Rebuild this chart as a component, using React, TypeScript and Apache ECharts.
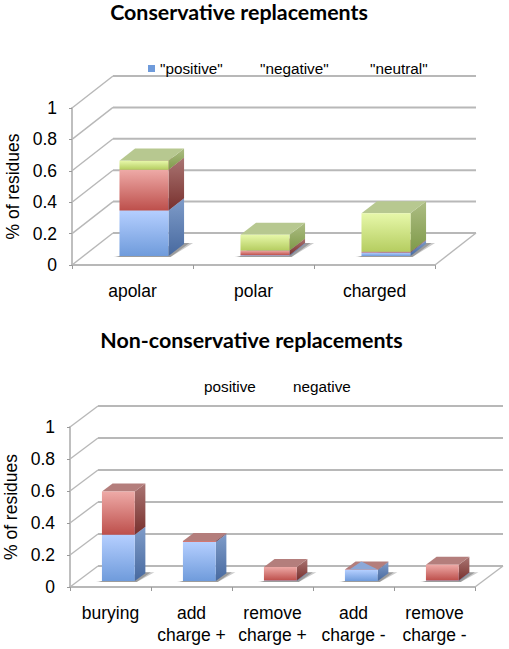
import React, { useEffect, useRef } from "react";
import * as echarts from "echarts";

const yTicks = [0, 0.2, 0.4, 0.6, 0.8, 1];

const topCategories = ["apolar", "polar", "charged"];
const topPositive = [0.29, 0.005, 0.022];
const topNegative = [0.26, 0.03, 0.005];
const topNeutral = [0.057, 0.1, 0.245];

const bottomCategories = ["burying", "add\ncharge +", "remove\ncharge +", "add\ncharge -", "remove\ncharge -"];
const bottomPositive = [0.29, 0.245, 0.004, 0.07, 0.004];
const bottomNegative = [0.27, 0.006, 0.085, 0.002, 0.098];

const BLUE = { front: ["#b5cfff", "#6f9bdb"], side: ["#7f9cc9", "#47699f"], top: "#8ba8d8" };
const RED = { front: ["#eeaaa7", "#bd4f4b"], side: ["#aa7573", "#78302d"], top: "#b47e7c" };
const GREEN = { front: ["#e7f8aa", "#b5cd60"], side: ["#adbd84", "#7f9a49"], top: "#b7c890" };

const vGrad = (c: string[]) => ({
  type: "linear", x: 0, y: 0, x2: 0, y2: 1,
  colorStops: [{ offset: 0, color: c[0] }, { offset: 1, color: c[1] }],
});

const FLOOR_FRAC = 0.28;
const BAR_DEPTH = 0.38;
const BAR_WIDTH = 0.405;
const LINE = "#b8b8b8";

function wallsSeries(gridIndex: number, dx: number, dy: number) {
  return {
    type: "custom", xAxisIndex: gridIndex, yAxisIndex: gridIndex, silent: true, clip: false,
    data: yTicks.map((v) => [0, v]),
    encode: { y: 1 },
    renderItem: (params: any, api: any) => {
      const cs = params.coordSys;
      const v = api.value(1);
      const y = api.coord([0, v])[1];
      const x0 = cs.x, x1 = cs.x + cs.width;
      const children: any[] = [
        { type: "line", shape: { x1: x0, y1: y, x2: x0 + dx, y2: y + dy }, style: { stroke: LINE, lineWidth: 1.4, fill: null } },
        { type: "line", shape: { x1: x0 + dx, y1: y + dy, x2: x1 + dx, y2: y + dy }, style: { stroke: LINE, lineWidth: 2, fill: null } },
      ];
      if (v === 0) {
        children.push({ type: "line", shape: { x1: x1, y1: y, x2: x1 + dx, y2: y + dy }, style: { stroke: LINE, lineWidth: 1.4, fill: null } });
      }
      return { type: "group", children };
    },
  };
}

function shadowSeries(gridIndex: number, cats: string[], dx: number, dy: number) {
  return {
    type: "custom", xAxisIndex: gridIndex, yAxisIndex: gridIndex, silent: true, clip: false,
    data: cats.map((_, i) => [i, 0]),
    encode: { x: 0, y: 1 },
    renderItem: (params: any, api: any) => {
      const p = api.coord([params.dataIndex, 0]);
      const w = api.size([1, 0])[0] * BAR_WIDTH;
      const xl = p[0] - w / 2 + dx * FLOOR_FRAC;
      const xr = xl + w;
      const yb = p[1] + dy * FLOOR_FRAC;
      const ddx = dx * BAR_DEPTH, ddy = dy * BAR_DEPTH;
      const poly = (g: number, o: number) => ({
        type: "polygon",
        shape: { points: [[xl - 6 * g, yb + 1], [xr + 2, yb + 1], [xr + ddx + 9 * g, yb + ddy - 1], [xr + ddx, yb + ddy - 1], [xl, yb]] },
        style: { fill: "#444", opacity: o },
      });
      return { type: "group", children: [poly(1, 0.28), poly(0.6, 0.35)] };
    },
  };
}

function barSeries(
  gridIndex: number, name: string, values: number[], bases: number[], col: any, dx: number, dy: number,
  poke?: { category: number; color: string },
) {
  return {
    type: "custom", name, xAxisIndex: gridIndex, yAxisIndex: gridIndex, silent: true, clip: false,
    itemStyle: { color: col.front[1] },
    data: values.map((v, i) => [i, bases[i], bases[i] + v]),
    encode: { x: 0, y: 2 },
    renderItem: (params: any, api: any) => {
      const i = params.dataIndex;
      const p0 = api.coord([i, api.value(1)]);
      const p1 = api.coord([i, api.value(2)]);
      const w = api.size([1, 0])[0] * BAR_WIDTH;
      const fx = dx * FLOOR_FRAC, fy = dy * FLOOR_FRAC;
      const ddx = dx * BAR_DEPTH, ddy = dy * BAR_DEPTH;
      const xl = p0[0] - w / 2 + fx, xr = xl + w;
      const yb = p0[1] + fy, yt = p1[1] + fy;
      const children: any[] = [
        { type: "polygon", shape: { points: [[xr, yb], [xr + ddx, yb + ddy], [xr + ddx, yt + ddy], [xr, yt]] }, style: { fill: vGrad(col.side) } },
        { type: "polygon", shape: { points: [[xl, yt], [xr, yt], [xr + ddx, yt + ddy], [xl + ddx, yt + ddy]] }, style: { fill: col.top } },
        { type: "rect", shape: { x: xl, y: yt, width: w, height: yb - yt }, style: { fill: vGrad(col.front) } },
      ];
      if (poke && poke.category === i) {
        children.push({
          type: "polygon",
          shape: { points: [[xl + w * 0.14, yt], [xr, yt], [xl + w * 0.5, yt + ddy]] },
          style: { fill: poke.color },
        });
      }
      return { type: "group", children };
    },
  };
}

const sum = (...arrs: number[][]) => arrs[0].map((_, i) => arrs.reduce((s, a) => s + a[i], 0));
const zeros = (n: number) => new Array(n).fill(0);

const AXIS_FONT = "Liberation Sans";

function xAxisOf(gridIndex: number, data: string[]) {
  return {
    type: "category", gridIndex, data,
    axisLine: { lineStyle: { color: LINE, width: 1.8 } },
    axisTick: { show: true, length: 4, lineStyle: { color: "#999", width: 1 } },
    axisLabel: { interval: 0, margin: 15, fontSize: 17.5, lineHeight: 22, color: "#000", fontFamily: AXIS_FONT },
    splitLine: { show: false },
  };
}

function yAxisOf(gridIndex: number) {
  return {
    type: "value", gridIndex, min: 0, max: 1, interval: 0.2,
    name: "% of residues", nameLocation: "middle", nameGap: 49, nameRotate: 90,
    nameTextStyle: { fontSize: 17.5, color: "#000", fontFamily: AXIS_FONT },
    axisLine: { show: true, onZero: false, lineStyle: { color: LINE, width: 1.8 } },
    axisTick: { show: true, length: 3, lineStyle: { color: "#999", width: 1 } },
    axisLabel: { margin: 15, fontSize: 17.5, color: "#000", fontFamily: AXIS_FONT },
    splitLine: { show: false },
  };
}

function legendOf(name: string, left: number, top: number, marker: boolean) {
  return {
    data: [name], left, top, padding: 0, orient: "horizontal", selectedMode: false,
    icon: "rect", itemWidth: marker ? 7 : 0, itemHeight: marker ? 7 : 0, itemGap: 0,
    textStyle: { fontSize: 15.3, color: "#000", fontFamily: AXIS_FONT, padding: 0 },
  };
}

export default function App() {
  const ref = useRef<HTMLDivElement>(null);
  useEffect(() => {
    const chart = echarts.init(ref.current!, undefined, { renderer: "svg" });
    const tDx = 41, tDy = -32, bDx = 28, bDy = -21;
    const titleStyle = { fontSize: 21.4, fontWeight: 700, color: "#000", fontFamily: "Lato" };
    chart.setOption({
      animation: false,
      backgroundColor: "#fff",
      title: [
        { text: "Conservative replacements", left: 239, top: 1, textAlign: "center", textStyle: titleStyle, padding: 0 },
        { text: "Non-conservative replacements", left: 251.5, top: 329, textAlign: "center", textStyle: titleStyle, padding: 0 },
      ],
      legend: [
        legendOf('"positive"', 148, 61, true),
        legendOf('"negative"', 255, 61, false),
        legendOf('"neutral"', 365, 61, false),
        legendOf("positive", 199, 379, false),
        legendOf("negative", 288, 379, false),
      ],
      grid: [
        { left: 72, top: 108, width: 363, height: 157, outerBoundsMode: "none" },
        { left: 70, top: 427, width: 405, height: 160, outerBoundsMode: "none" },
      ],
      xAxis: [xAxisOf(0, topCategories), xAxisOf(1, bottomCategories)],
      yAxis: [yAxisOf(0), yAxisOf(1)],
      series: [
        wallsSeries(0, tDx, tDy),
        shadowSeries(0, topCategories, tDx, tDy),
        barSeries(0, '"positive"', topPositive, zeros(3), BLUE, tDx, tDy),
        barSeries(0, '"negative"', topNegative, topPositive, RED, tDx, tDy),
        barSeries(0, '"neutral"', topNeutral, sum(topPositive, topNegative), GREEN, tDx, tDy),
        wallsSeries(1, bDx, bDy),
        shadowSeries(1, bottomCategories, bDx, bDy),
        barSeries(1, "positive", bottomPositive, zeros(5), BLUE, bDx, bDy),
        barSeries(1, "negative", bottomNegative, bottomPositive, RED, bDx, bDy, { category: 3, color: BLUE.top }),
      ],
    });
    return () => chart.dispose();
  }, []);
  return <div ref={ref} style={{ position: "absolute", left: 0, top: 0, width: 509, height: 649 }} />;
}
